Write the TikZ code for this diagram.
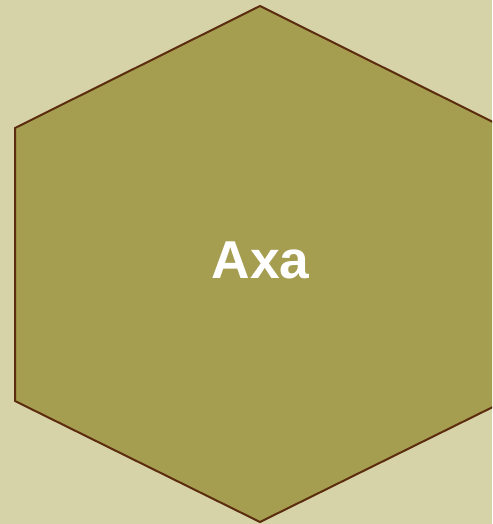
\documentclass[tikz,border=0pt]{standalone}
\usepackage{fontspec}
\setmainfont{Liberation Sans}
\usepackage{tikz}
\usetikzlibrary{positioning}

\definecolor{pagebg}{HTML}{D6D3A9}
\definecolor{hexfill}{HTML}{A59D50}
\definecolor{hexline}{HTML}{5C2C0E}

\begin{document}
\begin{tikzpicture}[
  x=0.75pt,y=-0.75pt,
  % Styles
  hexcell/.style={draw=hexline,fill=hexfill,line width=1.5pt,line join=miter},
  celllabel/.style={text=white,font=\bfseries\fontsize{40}{46}\selectfont,inner sep=0pt},
  ]

% Background and fixed frame
\fill[pagebg] (0,0) rectangle (492,524);
\useasboundingbox (0,0) rectangle (492,524);
\clip (0,0) rectangle (492,524);

%--- Hexagon corners ------------------------------------------------
\coordinate (top) at (260,6);
\coordinate (ul) at (15,128);
\coordinate (ll) at (15,401);
\coordinate (bot) at (260,522);
\coordinate (lr) at (505,401);
\coordinate (ur) at (505,128);

\draw[hexcell] (top) -- (ul) -- (ll) -- (bot) -- (lr) -- (ur) -- cycle;

% Label
\node[celllabel] (axa) at (260.5,260) {Axa};

\end{tikzpicture}
\end{document}
